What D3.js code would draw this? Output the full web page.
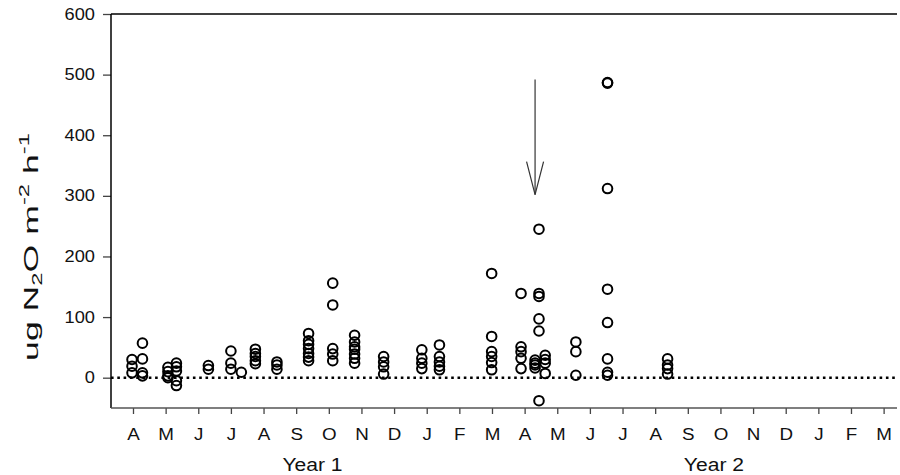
<!DOCTYPE html>
<html>
<head>
<meta charset="utf-8">
<script src="https://cdn.jsdelivr.net/npm/d3@7"></script>
<style>
  body { margin: 0; background: #fff; }
  text { font-family: "Liberation Sans", Arial, sans-serif; fill: #111; }
</style>
</head>
<body>
<div id="viz"></div>
<script>
// month tick labels, Apr year 1 .. Mar year 3
const monthLabels = ["A","M","J","J","A","S","O","N","D","J","F","M",
                     "A","M","J","J","A","S","O","N","D","J","F","M"];
const yearLabels = [{label: "Year 1", at: 5.5}, {label: "Year 2", at: 17.8}];
const yTicks = [0, 100, 200, 300, 400, 500, 600];

// sampling dates, in months after the first April tick
const sampleTimes = [-0.03, 0.29, 1.07, 1.33, 2.31, 3.0, 3.32, 3.75, 4.41, 5.38, 6.12, 6.79,
                     7.68, 8.85, 9.39, 10.99, 11.89, 12.32, 12.44, 12.63, 13.57, 14.54, 16.38];
// measured flux for each sampling date
const fluxValues = [
  [30, 19, 8],
  [57, 31, 8, 3],
  [17, 10, 3, 0],
  [24, 18, 11, -5, -13],
  [20, 14],
  [44, 24, 14],
  [9],
  [47, 40, 35, 28, 23],
  [26, 21, 14],
  [73, 61, 55, 48, 40, 34, 28],
  [156, 120, 48, 39, 28],
  [70, 59, 51, 47, 39, 32, 24],
  [35, 26, 18, 6],
  [46, 32, 24, 15],
  [54, 35, 26, 19, 13],
  [172, 68, 43, 35, 25, 13],
  [139, 51, 43, 32, 15],
  [29, 24, 21, 16],
  [245, 139, 134, 97, 77, -38],
  [37, 30, 24, 7],
  [59, 43, 4],
  [487, 486, 312, 146, 91, 31, 9, 4],
  [31, 21, 15, 6]
];
// arrow annotation (month, flux)
const arrowAt = {t: 12.32, from: 492, to: 302};

const margin = {left: 111, right: 3, top: 14, bottom: 67};
const W = 900, H = 475;
const width = W - margin.left - margin.right;
const height = H - margin.top - margin.bottom;
const stretch = 1.14; // the original lettering is a bit wide

const svg = d3.select("#viz").append("svg")
    .attr("width", W)
    .attr("height", H);

const g = svg.append("g")
    .attr("transform", `translate(${margin.left},${margin.top})`);

const xScale = d3.scaleLinear().domain([-0.674, 23.41]).range([0, width]);
const yScale = d3.scaleLinear().domain([-50, 600]).range([height, 0]);

// y axis
const yAxis = g.append("g")
    .call(d3.axisLeft(yScale).tickValues(yTicks).tickSize(8).tickPadding(8));
yAxis.select(".domain").remove();
yAxis.selectAll("line").attr("stroke", "#444").attr("stroke-width", 1.3);
yAxis.selectAll("text")
    .style("font-size", "16px").attr("fill", "#111")
    .attr("x", -16 / stretch)
    .attr("transform", `scale(${stretch},1)`);

// x axis
const xAxis = g.append("g")
    .attr("transform", `translate(0,${height})`)
    .call(d3.axisBottom(xScale)
        .tickValues(d3.range(monthLabels.length))
        .tickFormat(i => monthLabels[i])
        .tickSize(6).tickPadding(14));
xAxis.select(".domain").remove();
xAxis.selectAll("line").attr("stroke", "#444").attr("stroke-width", 1.3);
xAxis.selectAll("text")
    .style("font-size", "16.5px").attr("fill", "#111")
    .attr("transform", `scale(${stretch},1)`);

// frame lines: left, top, bottom
g.append("line").attr("x1", 0).attr("x2", 0).attr("y1", 0).attr("y2", height)
    .attr("stroke", "#000").attr("stroke-width", 1.5);
g.append("line").attr("x1", 0).attr("x2", width).attr("y1", 0).attr("y2", 0)
    .attr("stroke", "#000").attr("stroke-width", 1.3);
g.append("line").attr("x1", 0).attr("x2", width).attr("y1", height).attr("y2", height)
    .attr("stroke", "#555").attr("stroke-width", 1.3);

// dotted zero line
g.append("line")
    .attr("x1", 0).attr("x2", width)
    .attr("y1", yScale(0)).attr("y2", yScale(0))
    .attr("stroke", "#000")
    .attr("stroke-width", 2.6)
    .attr("stroke-dasharray", "2.6,3.7");

// year labels
g.selectAll(".year")
    .data(yearLabels)
    .enter().append("text")
        .attr("class", "year")
        .attr("transform", d => `translate(${xScale(d.at)},${height + 63}) scale(${stretch},1)`)
        .attr("text-anchor", "middle")
        .style("font-size", "18.5px")
        .text(d => d.label);

// points
const points = sampleTimes.flatMap((t, i) => fluxValues[i].map(v => ({t, v})));
g.selectAll("circle")
    .data(points)
    .enter().append("circle")
        .attr("cx", d => xScale(d.t))
        .attr("cy", d => yScale(d.v))
        .attr("r", 4.8)
        .attr("fill", "none")
        .attr("stroke", "#000")
        .attr("stroke-width", 2);

// arrow
const ax = xScale(arrowAt.t), ay1 = yScale(arrowAt.from), ay2 = yScale(arrowAt.to);
g.append("line").attr("x1", ax).attr("x2", ax).attr("y1", ay1).attr("y2", ay2)
    .attr("stroke", "#333").attr("stroke-width", 1.2);
g.append("path")
    .attr("d", `M${ax - 8.5},${ay2 - 33}L${ax},${ay2}L${ax + 8.5},${ay2 - 33}`)
    .attr("fill", "none").attr("stroke", "#333").attr("stroke-width", 1.2);

// y axis title, stretched along its length like the original
const yt = svg.append("text")
    .attr("text-anchor", "middle")
    .style("font-size", "21px");
yt.append("tspan").text("ug N");
yt.append("tspan").attr("baseline-shift", "-25%").style("font-size", "14px").text("2");
yt.append("tspan").text("O m");
yt.append("tspan").attr("baseline-shift", "65%").style("font-size", "14px").text("-2");
yt.append("tspan").text(" h");
yt.append("tspan").attr("baseline-shift", "65%").style("font-size", "14px").text("-1");
const natural = yt.node().getComputedTextLength();
const sx = 228 / natural;
yt.attr("transform", `translate(38,247) rotate(-90) scale(${sx},1)`);
</script>
</body>
</html>
